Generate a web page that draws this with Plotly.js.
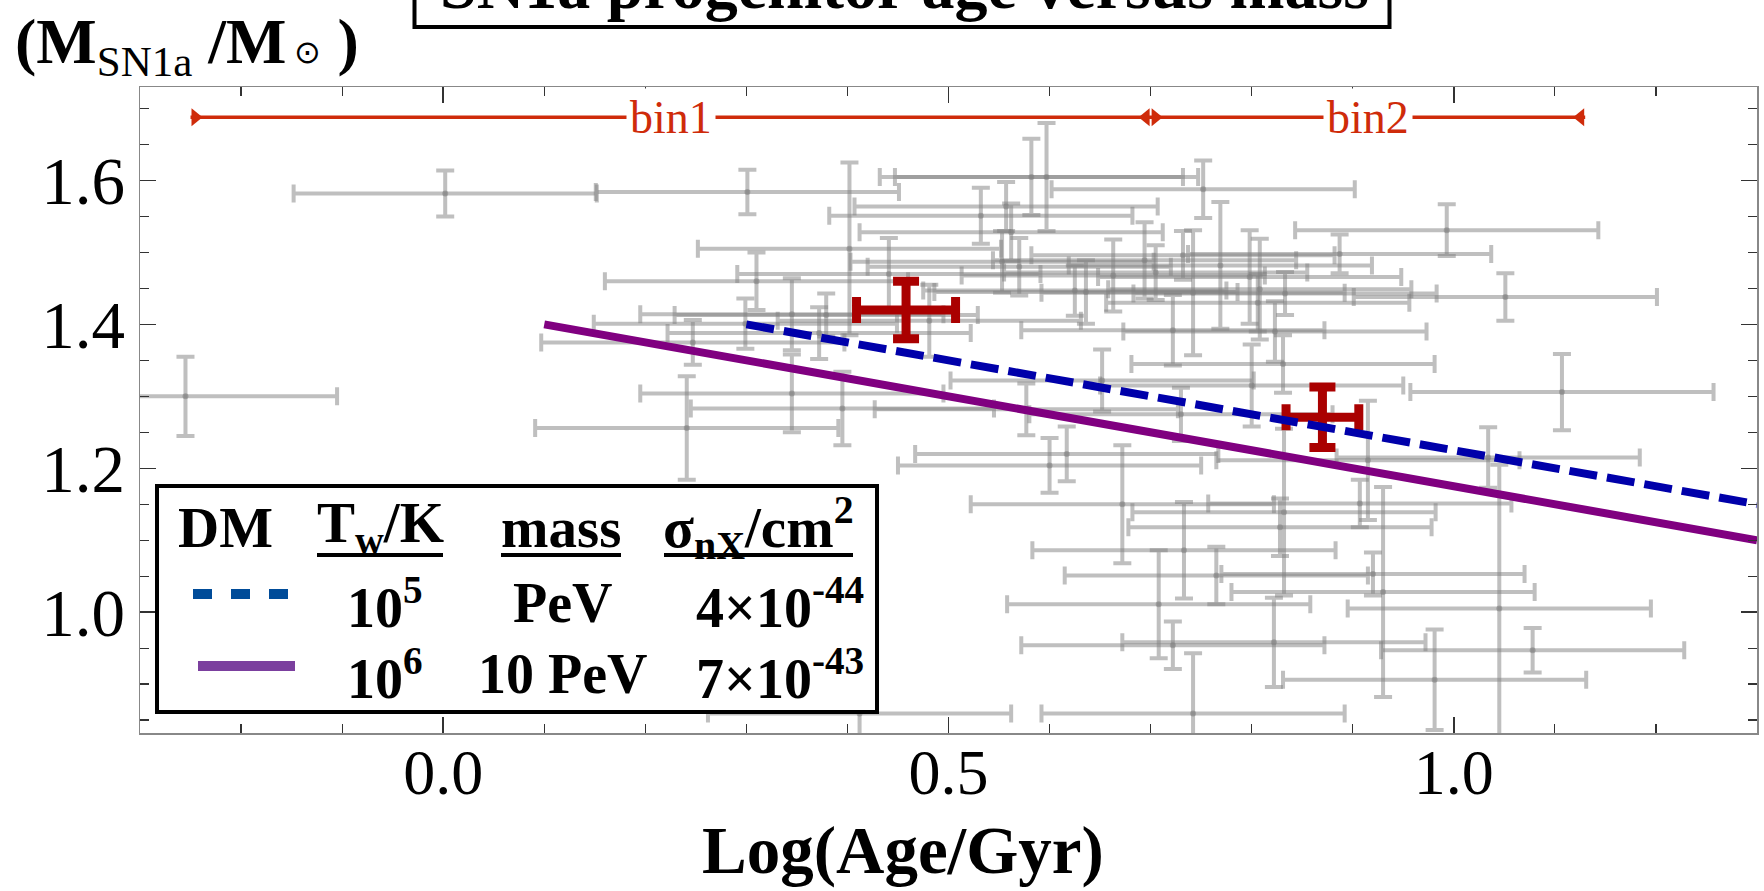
<!DOCTYPE html>
<html><head><meta charset="utf-8">
<script src="https://cdn.plot.ly/plotly-3.0.1.min.js"></script>
<style>html,body{margin:0;padding:0;background:#fff}#chart{width:1764px;height:891px}</style>
</head><body><div id="chart"></div>
<script>
// ---------------- data ----------------
const logAge = [-0.255, 0.002, 0.241, 0.247, 0.299, 0.301, 0.310, 0.345, 0.345, 0.372, 0.379, 0.395, 0.402, 0.412, 0.441, 0.481, 0.532, 0.553, 0.557, 0.562, 0.570, 0.577, 0.582, 0.597, 0.600, 0.617, 0.625, 0.636, 0.652, 0.663, 0.672, 0.694, 0.705, 0.708, 0.722, 0.722, 0.730, 0.732, 0.733, 0.742, 0.742, 0.752, 0.765, 0.769, 0.798, 0.800, 0.806, 0.808, 0.822, 0.823, 0.828, 0.831, 0.832, 0.833, 0.887, 0.907, 0.915, 0.920, 0.930, 0.981, 0.993, 1.034, 1.045, 1.051, 1.078, 1.107];
const massSN = [1.300, 1.582, 1.256, 1.375, 1.401, 1.584, 1.460, 1.414, 1.304, 1.388, 1.413, 1.283, 1.505, 0.859, 1.470, 1.405, 1.551, 1.487, 1.564, 1.528, 1.480, 1.282, 1.605, 1.605, 1.204, 1.220, 1.447, 1.445, 1.322, 1.468, 1.150, 1.489, 1.472, 1.011, 1.392, 0.954, 1.275, 1.496, 1.086, 1.444, 0.859, 1.588, 1.051, 1.482, 1.466, 1.315, 1.430, 1.449, 0.958, 1.390, 1.118, 1.345, 1.139, 1.443, 1.498, 1.151, 1.211, 1.053, 1.028, 0.906, 1.531, 1.215, 1.005, 1.438, 0.947, 1.306];
const massErr = [0.055, 0.032, 0.072, 0.031, 0.035, 0.031, 0.040, 0.050, 0.054, 0.036, 0.030, 0.051, 0.120, 0.090, 0.050, 0.050, 0.039, 0.043, 0.034, 0.040, 0.040, 0.036, 0.053, 0.075, 0.038, 0.038, 0.035, 0.044, 0.043, 0.050, 0.082, 0.053, 0.038, 0.075, 0.049, 0.033, 0.037, 0.034, 0.067, 0.087, 0.084, 0.040, 0.040, 0.088, 0.065, 0.057, 0.040, 0.070, 0.062, 0.042, 0.040, 0.040, 0.116, 0.030, 0.027, 0.033, 0.083, 0.030, 0.146, 0.070, 0.036, 0.042, 0.200, 0.033, 0.031, 0.053];
const AGE_ERR = 0.15;

const binEdges = [-0.25, 0.70, 1.13];
const binLabels = ['bin1', 'bin2'];
const BIN_Y = 1.688;

const binAge = [0.458, 0.870];
const binAgeErr = [0.049, 0.036];
const binMass = [1.420, 1.271];
const binMassErr = [0.040, 0.042];

const model5X = [0.3, 1.3], model5Y = [1.40, 1.15];   // T_w = 1e5 K, PeV
const model6X = [0.1, 1.3], model6Y = [1.40, 1.10];   // T_w = 1e6 K, 10 PeV

const legendHeaders = ['DM', 'T<sub>w</sub>/K', 'mass', 'σ<sub>nX</sub>/cm<sup>2</sup>'];
const legendTemps = ['10<sup>5</sup>', '10<sup>6</sup>'];
const legendMasses = ['PeV', '10 PeV'];
const legendSigmas = ['4×10<sup>-44</sup>', '7×10<sup>-43</sup>'];

const titleText = 'SN1a progenitor age versus mass';
const xTitleText = 'Log(Age/Gyr)';

// ---------------- styling / layout helpers ----------------
const SERIF = 'Liberation Serif, Times New Roman, serif';
const RED = '#cf2b0a';
const L = 140, T = 87, W = 1617, H = 646;
const px2x = p => (p - L) / W;
const px2y = p => (T + H - p) / H;

const traces = [];
traces.push({
  x: logAge, y: massSN, type: 'scatter', mode: 'markers',
  marker: {size: 6, color: 'rgba(128,128,128,0.5)'},
  error_x: {type: 'constant', value: AGE_ERR, color: 'rgba(128,128,128,0.5)', thickness: 4, width: 9},
  error_y: {type: 'data', array: massErr, color: 'rgba(128,128,128,0.5)', thickness: 4, width: 9},
  hoverinfo: 'skip', showlegend: false
});
traces.push({
  x: [binEdges[0], binEdges[binEdges.length - 1]], y: [BIN_Y, BIN_Y],
  type: 'scatter', mode: 'lines', line: {color: RED, width: 3.5},
  hoverinfo: 'skip', showlegend: false
});
traces.push({
  x: binAge, y: binMass, type: 'scatter', mode: 'markers',
  marker: {size: 2, color: 'rgba(0,0,0,0)'},
  error_x: {type: 'data', array: binAgeErr, color: '#aa0000', thickness: 9, width: 13},
  error_y: {type: 'data', array: binMassErr, color: '#aa0000', thickness: 9, width: 13},
  hoverinfo: 'skip', showlegend: false
});
traces.push({
  x: model6X, y: model6Y, type: 'scatter', mode: 'lines',
  line: {color: '#800080', width: 8}, hoverinfo: 'skip', showlegend: false
});
traces.push({
  x: model5X, y: model5Y, type: 'scatter', mode: 'lines',
  line: {color: '#0000aa', width: 8, dash: '28px,10px'}, hoverinfo: 'skip', showlegend: false
});

const shapes = [];
// bin end triangles (flat side at the edge, pointing inward)
for (let i = 0; i < binEdges.length - 1; i++) {
  shapes.push({type: 'path', xref: 'x', yref: 'y', xsizemode: 'pixel', ysizemode: 'pixel',
    xanchor: binEdges[i], yanchor: BIN_Y, path: 'M1,-9L1,9L12,0Z',
    fillcolor: RED, line: {width: 0}, layer: 'above'});
  shapes.push({type: 'path', xref: 'x', yref: 'y', xsizemode: 'pixel', ysizemode: 'pixel',
    xanchor: binEdges[i + 1], yanchor: BIN_Y, path: 'M-1,-9L-1,9L-12,0Z',
    fillcolor: RED, line: {width: 0}, layer: 'above'});
}
// title box
shapes.push({type: 'rect', xref: 'paper', yref: 'paper', x0: px2x(414.5), x1: px2x(1389.5),
  y0: px2y(27), y1: px2y(-30), line: {color: '#000', width: 4}, fillcolor: 'rgba(0,0,0,0)', layer: 'above'});
// legend box
shapes.push({type: 'rect', xref: 'paper', yref: 'paper', x0: px2x(157), x1: px2x(877),
  y0: px2y(712), y1: px2y(486), line: {color: '#000', width: 4}, fillcolor: '#fff', layer: 'above'});
// legend header underlines
[[317, 443], [501, 621], [664, 853]].forEach(([a, b]) => shapes.push({type: 'line', xref: 'paper', yref: 'paper',
  x0: px2x(a), x1: px2x(b), y0: px2y(555), y1: px2y(555), line: {color: '#000', width: 4}, layer: 'above'}));
// legend line samples
shapes.push({type: 'line', xref: 'paper', yref: 'paper', x0: px2x(193), x1: px2x(290), y0: px2y(594), y1: px2y(594),
  line: {color: '#004c99', width: 10, dash: '19px,19px'}, layer: 'above'});
shapes.push({type: 'line', xref: 'paper', yref: 'paper', x0: px2x(198), x1: px2x(295), y0: px2y(666), y1: px2y(666),
  line: {color: '#7b3f9e', width: 10}, layer: 'above'});

const annotations = [];
const boldFont = (s) => ({family: SERIF, size: s, color: '#000', weight: 'bold'});
// title
annotations.push({xref: 'paper', yref: 'paper', x: px2x(904), y: px2y(-14), xanchor: 'center', yanchor: 'middle',
  text: titleText, showarrow: false, font: boldFont(66)});
// y axis label (top-left)
annotations.push({xref: 'paper', yref: 'paper', x: px2x(13), y: px2y(46), xanchor: 'left', yanchor: 'middle',
  text: '(M<sub><span style="font-size:43px;font-weight:normal">SN1a</span></sub> /M<span style="font-size:32px;font-weight:normal"> ⊙</span> )',
  showarrow: false, font: boldFont(64)});
// x axis label
annotations.push({xref: 'paper', yref: 'paper', x: px2x(903), y: px2y(850), xanchor: 'center', yanchor: 'middle',
  text: xTitleText, showarrow: false, font: boldFont(67)});
// bin labels
for (let i = 0; i < binLabels.length; i++) {
  annotations.push({xref: 'x', yref: 'y', x: (binEdges[i] + binEdges[i + 1]) / 2, y: BIN_Y,
    xanchor: 'center', yanchor: 'middle', text: binLabels[i], showarrow: false,
    bgcolor: '#fff', borderpad: 3, font: {family: SERIF, size: 46, color: RED}});
}
// legend table
const hdrX = [225, 380, 561, 758];
legendHeaders.forEach((t, i) => annotations.push({xref: 'paper', yref: 'paper', x: px2x(hdrX[i]), y: px2y(527),
  xanchor: 'center', yanchor: 'middle', text: t, showarrow: false, font: boldFont(57)}));
const rowY = [603, 674];
for (let r = 0; r < 2; r++) {
  annotations.push({xref: 'paper', yref: 'paper', x: px2x(385), y: px2y(rowY[r]), xanchor: 'center', yanchor: 'middle',
    text: legendTemps[r], showarrow: false, font: boldFont(56)});
  annotations.push({xref: 'paper', yref: 'paper', x: px2x(563), y: px2y(rowY[r]), xanchor: 'center', yanchor: 'middle',
    text: legendMasses[r], showarrow: false, font: boldFont(56)});
  annotations.push({xref: 'paper', yref: 'paper', x: px2x(780), y: px2y(rowY[r]), xanchor: 'center', yanchor: 'middle',
    text: legendSigmas[r], showarrow: false, font: boldFont(56)});
}

const axisCommon = {
  showgrid: false, zeroline: false, mirror: 'allticks', showline: true,
  linecolor: '#888', linewidth: 1.5, ticks: 'inside', ticklen: 16, tickwidth: 1.5, tickcolor: '#333',
  tickformat: '.1f', automargin: false
};
const layout = {
  width: 1764, height: 891,
  margin: {l: L, r: 1764 - L - W, t: T, b: 891 - T - H, pad: 0},
  paper_bgcolor: '#fff', plot_bgcolor: '#fff',
  showlegend: false,
  xaxis: Object.assign({}, axisCommon, {
    range: [-0.3, 1.3], tick0: 0, dtick: 0.5,
    minor: {dtick: 0.1, ticks: 'inside', ticklen: 9, tickwidth: 1.2, tickcolor: '#333'},
    tickfont: {family: SERIF, size: 64, color: '#000'}, ticklabelstandoff: -17
  }),
  yaxis: Object.assign({}, axisCommon, {
    range: [0.832, 1.73], tick0: 1.0, dtick: 0.2,
    minor: {dtick: 0.05, ticks: 'inside', ticklen: 9, tickwidth: 1.2, tickcolor: '#333'},
    tickfont: {family: SERIF, size: 67, color: '#000'}, ticklabelstandoff: 0
  }),
  shapes: shapes,
  annotations: annotations
};
Plotly.newPlot('chart', traces, layout, {displayModeBar: false, staticPlot: true});
</script>
</body></html>
